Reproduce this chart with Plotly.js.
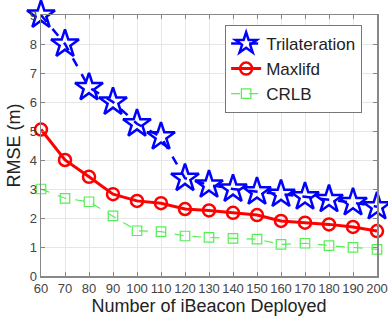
<!DOCTYPE html>
<html><head><meta charset="utf-8">
<script src="https://cdn.plot.ly/plotly-3.0.1.min.js"></script>
<style>body{margin:0;background:#fff}#c{width:388px;height:319px}</style>
</head><body><div id="c"></div>
<script>
const beacons = [60,70,80,90,100,110,120,130,140,150,160,170,180,190,200];
const trilateration = [9.0,8.0,6.5,6.0,5.25,4.8,3.37,3.14,3.0,2.9,2.82,2.73,2.64,2.53,2.39];
const maxlifd = [5.05,4.0,3.42,2.82,2.59,2.51,2.31,2.26,2.18,2.1,1.9,1.84,1.78,1.69,1.55];
const crlb = [3.0,2.68,2.56,2.07,1.56,1.53,1.38,1.33,1.3,1.27,1.09,1.13,1.05,0.99,0.92];
const yTicks = [0,1,2,3,4,5,6,7,8,9];

const traces = [
 {x:beacons,y:trilateration,name:'Trilateration',mode:'lines+markers',cliponaxis:false,
  line:{color:'#0000ff',width:2.5,dash:'dash'},
  marker:{symbol:'star-open',size:21,color:'#0000ff',line:{width:2.5,color:'#0000ff'}}},
 {x:beacons,y:maxlifd,name:'Maxlifd',mode:'lines+markers',cliponaxis:false,
  line:{color:'#ff0000',width:3},
  marker:{symbol:'circle-open',size:12,color:'#ff0000',line:{width:2.5,color:'#ff0000'}}},
 {x:beacons,y:crlb,name:'CRLB',mode:'lines+markers',cliponaxis:false,
  line:{color:'#55ee55',width:1.2,dash:'dash'},
  marker:{symbol:'square-open',size:9.5,color:'#55ee55',line:{width:1.2,color:'#55ee55'}}}
];
const F = 'Liberation Sans, Arial, sans-serif';
const axisCommon = {showline:true,mirror:'ticks',linecolor:'#888',linewidth:1.5,
  gridcolor:'#e6e6e6',gridwidth:1,ticks:'inside',ticklen:4,tickcolor:'#888',zeroline:false,
  tickfont:{family:F,size:13,color:'#444'}};
const layout = {
 width:388,height:319,margin:{l:41,r:11,t:15,b:43},
 paper_bgcolor:'#fff',plot_bgcolor:'#fff',showlegend:true,
 xaxis:Object.assign({},axisCommon,{range:[60,200],tickvals:beacons,
   title:{text:'Number of iBeacon Deployed',standoff:2,font:{family:F,size:18,color:'#222'}}}),
 yaxis:Object.assign({},axisCommon,{range:[0,9],tickvals:yTicks,
   title:{text:'RMSE (m)',standoff:4,font:{family:F,size:18,color:'#222'}}}),
 legend:{x:0.548,y:0.962,xanchor:'left',yanchor:'top',bgcolor:'#fff',bordercolor:'#777',borderwidth:1,
   font:{family:F,size:17,color:'#222'},tracegroupgap:0,itemwidth:30}
};
Plotly.newPlot('c',traces,layout,{displayModeBar:false,staticPlot:true});
</script></body></html>
